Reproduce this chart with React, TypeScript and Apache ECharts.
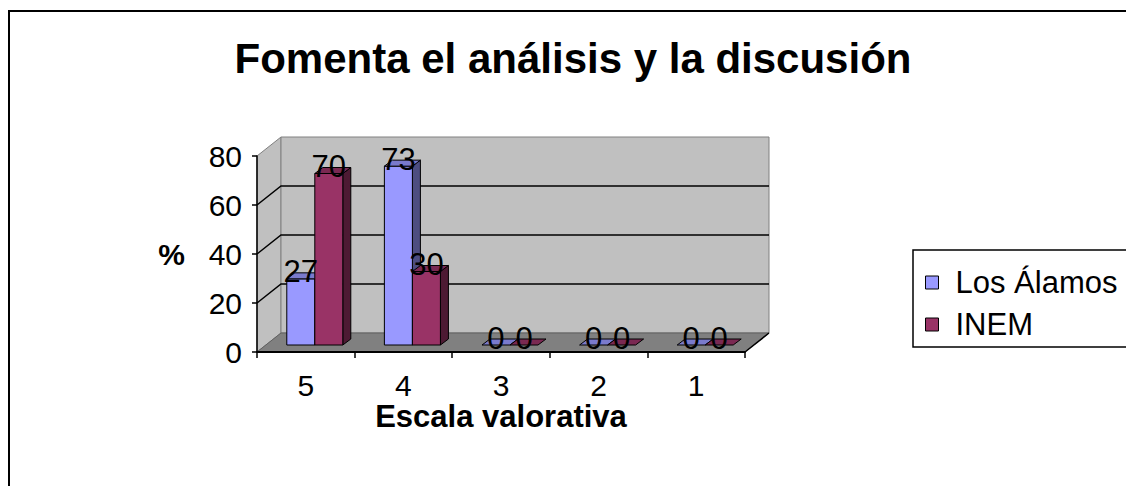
import React, { useEffect, useRef } from 'react';
import * as echarts from 'echarts';

const categories = ['5', '4', '3', '2', '1'];
const losAlamos = [27, 73, 0, 0, 0];
const inem = [70, 30, 0, 0, 0];
const yTicks = [0, 20, 40, 60, 80];
const seriesNames = ['Los Álamos', 'INEM'];
const titleText = 'Fomenta el análisis y la discusión';
const xName = 'Escala valorativa';
const yName = '%';

const FONT = '"Liberation Sans", Arial, Helvetica, sans-serif';
const WALL = { dx: 24, dy: -19 };
const BAR_FRONT = { dx: 9, dy: -7 };
const BAR_DEPTH = { dx: 8, dy: -6 };
const palette = [
  { front: '#9999FF', side: '#4D4D80', top: '#7A7ACC' },
  { front: '#993366', side: '#4D1A33', top: '#7A2952' },
];

const makeBarRender = (s: number) => (params: any, api: any) => {
  const i = api.value(0);
  const v = api.value(1);
  const band = api.size([1, 0])[0];
  const w = band * 0.287;
  const base = api.coord([i, 0]);
  const top = api.coord([i, v]);
  const x0 = base[0] + BAR_FRONT.dx + (s === 0 ? -w : 0);
  const x1 = x0 + w;
  const yb = base[1] + BAR_FRONT.dy;
  const yt = top[1] + BAR_FRONT.dy;
  const { dx, dy } = BAR_DEPTH;
  const c = palette[s];
  const ls = { stroke: '#000', lineWidth: 1 };
  const children: any[] = [];
  if (yb - yt > 0.5) {
    children.push({
      type: 'polygon',
      shape: { points: [[x1, yt], [x1 + dx, yt + dy], [x1 + dx, yb + dy], [x1, yb]] },
      style: { fill: c.side, ...ls },
    });
    children.push({
      type: 'rect',
      shape: { x: x0, y: yt, width: w, height: yb - yt },
      style: { fill: c.front, ...ls },
    });
  }
  children.push({
    type: 'polygon',
    shape: { points: [[x0, yt], [x1, yt], [x1 + dx, yt + dy], [x0 + dx, yt + dy]] },
    style: { fill: c.top, ...ls },
  });
  children.push({
    type: 'text',
    z2: 100,
    style: {
      text: String(v),
      x: x0 + w / 2,
      y: yt + dy - 1,
      align: 'center',
      verticalAlign: 'middle',
      font: `31px ${FONT}`,
      fill: '#000',
    },
  });
  return { type: 'group', children };
};

const renderFrame = (params: any, api: any) => {
  const band = api.size([1, 0])[0];
  const L = api.coord([0, 0])[0] - band / 2;
  const R = api.coord([categories.length - 1, 0])[0] + band / 2;
  const yb = api.coord([0, yTicks[0]])[1];
  const yt = api.coord([0, yTicks[yTicks.length - 1]])[1];
  const { dx, dy } = WALL;
  const children: any[] = [];
  children.push({
    type: 'polygon',
    shape: { points: [[L, yb], [L, yt], [L + dx, yt + dy], [L + dx, yb + dy]] },
    style: { fill: '#C0C0C0', stroke: '#808080', lineWidth: 1 },
  });
  children.push({
    type: 'rect',
    shape: { x: L + dx, y: yt + dy, width: R - L, height: yb - yt },
    style: { fill: '#C0C0C0', stroke: '#808080', lineWidth: 1 },
  });
  children.push({
    type: 'polygon',
    shape: { points: [[L, yb], [R, yb], [R + dx, yb + dy], [L + dx, yb + dy]] },
    style: { fill: '#808080', stroke: '#606060', lineWidth: 1 },
  });
  children.push({
    type: 'line',
    shape: { x1: R, y1: yb, x2: R + dx, y2: yb + dy },
    style: { stroke: '#000', lineWidth: 1.5 },
  });
  yTicks.slice(1, -1).forEach((t) => {
    const y = api.coord([0, t])[1];
    children.push({
      type: 'polyline',
      shape: { points: [[L, y], [L + dx, y + dy], [R + dx, y + dy]] },
      style: { stroke: '#000', lineWidth: 1.5, fill: 'none' },
    });
  });
  return { type: 'group', children };
};

export default function App() {
  const ref = useRef<HTMLDivElement>(null);
  useEffect(() => {
    if (!ref.current) return;
    const chart = echarts.init(ref.current, undefined, { renderer: 'svg' });
    const seriesData = [losAlamos, inem];
    chart.setOption({
      animation: false,
      backgroundColor: '#FFFFFF',
      title: {
        text: titleText,
        left: 573,
        top: 37,
        padding: 0,
        textAlign: 'center',
        textStyle: { fontFamily: FONT, fontSize: 42, fontWeight: 'bold', color: '#000' },
      },
      legend: {
        orient: 'vertical',
        left: 925,
        top: 267,
        padding: 0,
        itemGap: 11,
        itemWidth: 13,
        itemHeight: 13,
        borderWidth: 0,
        icon: 'rect',
        textStyle: { fontFamily: FONT, fontSize: 31, color: '#000', padding: [0, 0, 0, 12] },
        data: seriesNames.map((n, k) => ({
          name: n,
          itemStyle: { color: palette[k].front, borderColor: '#000', borderWidth: 1 },
        })),
      },
      graphic: [
        {
          type: 'polyline',
          shape: { points: [[9, 700], [9, 11], [1400, 11]] },
          style: { fill: 'none', stroke: '#000', lineWidth: 2 },
          z: 100,
        },
        {
          type: 'polyline',
          shape: { points: [[1400, 250], [913, 250], [913, 347], [1400, 347]] },
          style: { fill: 'none', stroke: '#000', lineWidth: 1.5 },
          z: 100,
        },
      ],
      grid: { left: 257, top: 156, width: 488, height: 196, containLabel: false },
      xAxis: {
        type: 'category',
        data: categories,
        z: 5,
        name: xName,
        nameLocation: 'middle',
        nameGap: 42,
        nameTextStyle: { fontFamily: FONT, fontSize: 31, fontWeight: 'bold', color: '#000' },
        axisLine: { lineStyle: { color: '#000', width: 2 } },
        axisTick: { show: true, length: 6, lineStyle: { color: '#000', width: 1.5 } },
        axisLabel: { margin: 18, fontFamily: FONT, fontSize: 30, color: '#000' },
        splitLine: { show: false },
      },
      yAxis: {
        type: 'value',
        min: 0,
        max: 80,
        interval: 20,
        z: 5,
        name: yName,
        nameLocation: 'middle',
        nameGap: 72,
        nameRotate: 0,
        nameTextStyle: { fontFamily: FONT, fontSize: 30, fontWeight: 'bold', color: '#000' },
        axisLine: { show: true, lineStyle: { color: '#000', width: 1.5 } },
        axisTick: { show: true, length: 5, lineStyle: { color: '#000', width: 1.5 } },
        axisLabel: { margin: 15, fontFamily: FONT, fontSize: 30, color: '#000' },
        splitLine: { show: false },
      },
      series: [
        {
          name: '__frame',
          type: 'custom',
          z: 1,
          silent: true,
          renderItem: renderFrame,
          data: [[0, 0]],
          encode: { x: 0, y: 1 },
        },
        ...seriesNames.map((n, s) => ({
          name: n,
          type: 'custom',
          z: 2,
          itemStyle: { color: palette[s].front },
          renderItem: makeBarRender(s),
          data: seriesData[s].map((v, i) => [i, v]),
          encode: { x: 0, y: 1 },
        })),
      ],
    });
    return () => chart.dispose();
  }, []);
  return (
    <div
      ref={ref}
      style={{ position: 'fixed', left: 0, top: 0, width: 1126, height: 486 }}
    />
  );
}
